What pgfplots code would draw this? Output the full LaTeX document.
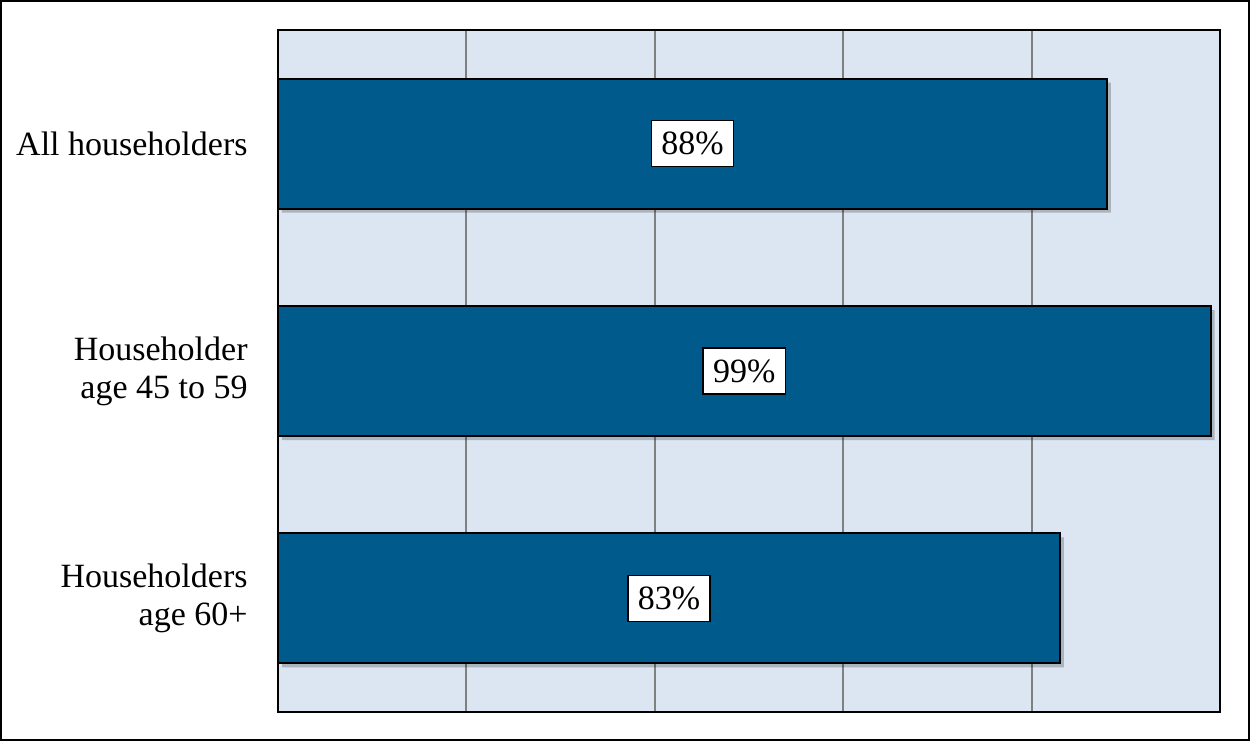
\documentclass[border=0pt]{standalone}
\usepackage{fontspec}
\setmainfont{Liberation Serif}
\usepackage{pgfplots}
\pgfplotsset{compat=1.18}
\definecolor{bgblue}{RGB}{220,230,242}
\definecolor{barblue}{RGB}{0,90,140}
\definecolor{gridgray}{RGB}{128,128,128}
\begin{document}
\begin{tikzpicture}
\path[use as bounding box] (0,0) rectangle (625pt,370.5pt);
\draw[line width=1pt] (0.5pt,0.5pt) rectangle (624.5pt,370pt);
\begin{axis}[
  at={(139pt,14.5pt)}, anchor=south west,
  scale only axis, width=471pt, height=341pt,
  xmin=0, xmax=100, ymin=-0.5, ymax=2.5,
  y dir=reverse,
  xtick={0,20,40,60,80,100}, xticklabels={},
  ytick={0,1,2},
  yticklabels={{All householders},{Householder\\age 45 to 59},{Householders\\age 60+}},
  major tick length=0pt,
  xmajorgrids, major grid style={gridgray, line width=1pt},
  axis line style={black, line width=1pt},
  axis background/.style={fill=bgblue},
  yticklabel style={align=right, inner sep=0pt, xshift=-15pt, font=\fontsize{17}{19}\selectfont},
  /pgf/number format/assume math mode=true,
  xbar, bar width=65pt, bar shift=0pt,
  clip=false,
]
\addplot[
  draw=none, fill=black, fill opacity=0.22,
  transform canvas={xshift=2pt, yshift=-2pt},
] coordinates {(88,0) (99,1) (83,2)};
\addplot[
  draw=black, line width=1pt, fill=barblue,
  visualization depends on={x \as \rawx},
  point meta=x,
  nodes near coords={\pgfmathprintnumber{\pgfplotspointmeta}\%},
  every node near coord/.append style={
    anchor=center, fill=white, draw=black, line width=0.8pt,
    inner xsep=5pt, minimum height=23pt, text=black,
    font=\fontsize{17}{19}\selectfont,
    xshift={-2.355pt*\rawx}},
] coordinates {(88,0) (99,1) (83,2)};
\end{axis}
\end{tikzpicture}
\end{document}
